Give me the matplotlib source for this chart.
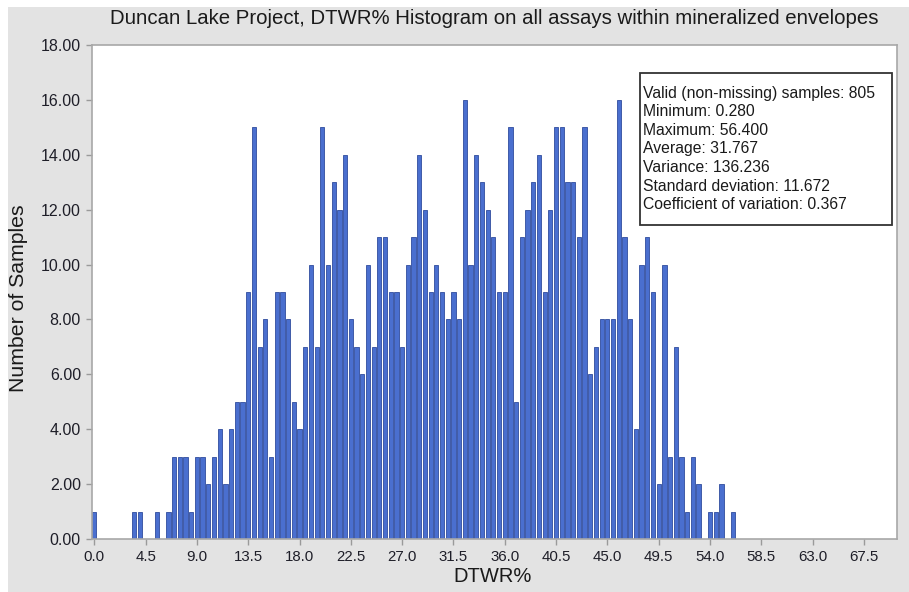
import numpy as np
import matplotlib
matplotlib.use('Agg')
import matplotlib.pyplot as plt
from matplotlib.patches import Rectangle

plt.rcParams['font.family'] = ['Liberation Sans', 'DejaVu Sans']

# Histogram bins (left value of each 0.5 % DTWR class) and sample counts
bin_values = np.arange(0.0, 56.5, 0.5)
counts = [
    1, 0, 0, 0, 0, 0, 0, 1, 1, 0, 0, 1, 0, 1, 3, 3, 3, 1, 3, 3,      # 0.0 - 9.5
    2, 3, 4, 2, 4, 5, 5, 9, 15, 7, 8, 3, 9, 9, 8, 5, 4, 7, 10, 7,     # 10.0 - 19.5
    15, 10, 13, 12, 14, 8, 7, 6, 10, 7, 11, 11, 9, 9, 7, 10, 11, 14, 12, 9,  # 20.0 - 29.5
    10, 9, 8, 9, 8, 16, 10, 14, 13, 12, 11, 9, 9, 15, 5, 11, 12, 13, 14, 9,  # 30.0 - 39.5
    12, 15, 15, 13, 13, 11, 15, 6, 7, 8, 8, 8, 16, 11, 8, 4, 10, 11, 9, 2,   # 40.0 - 49.5
    10, 3, 7, 3, 1, 3, 2, 0, 1, 1, 2, 0, 1,                          # 50.0 - 56.0
]
x_ticks = np.arange(0.0, 68.0, 4.5)
y_ticks = np.arange(0, 19, 2)

title = 'Duncan Lake Project, DTWR% Histogram on all assays within mineralized envelopes'
stats_lines = [
    'Valid (non-missing) samples: 805',
    'Minimum: 0.280',
    'Maximum: 56.400',
    'Average: 31.767',
    'Variance: 136.236',
    'Standard deviation: 11.672',
    'Coefficient of variation: 0.367',
]

W, H = 909, 592
fig = plt.figure(figsize=(W / 100, H / 100), dpi=100)
fig.patch.set_facecolor('white')
# grey panel behind the chart
fig.patches.append(Rectangle((8 / W, 0), 1 - 8 / W, 1 - 7 / H, transform=fig.transFigure,
                             facecolor='#e3e3e3', edgecolor='none', zorder=-1))

ax = fig.add_axes([92 / W, (H - 539) / H, 805 / W, 494 / H])
ax.set_facecolor('white')

ax.bar(bin_values, counts, width=0.37, color='#4a6fcf', edgecolor='#2f4c9e', linewidth=0.6)

ax.set_xlim(-0.2, 70.4)
ax.set_ylim(0, 18)
ax.set_xticks(x_ticks)
ax.set_xticklabels([f'{v:.1f}' for v in x_ticks])
ax.set_yticks(y_ticks)
ax.set_yticklabels([f'{v:.2f}' for v in y_ticks])
ax.tick_params(axis='both', colors='#9a9a9a', labelcolor='#1e1e28',
               length=4, width=1, pad=4)
ax.tick_params(axis='x', labelsize=10.8)
ax.tick_params(axis='y', labelsize=11.5)
for s in ax.spines.values():
    s.set_color('#a8a8a8')
    s.set_linewidth(1.2)

fig.text(494.5 / W, 1 - 18 / H, title, ha='center', va='center', fontsize=14.7, color='#1a1a1a')
fig.text(493 / W, 1 - 576 / H, 'DTWR%', ha='center', va='center', fontsize=14.5, color='#1a1a1a')
fig.text(19 / W, 1 - 298 / H, 'Number of Samples', ha='center', va='center', rotation=90,
         fontsize=15.3, color='#1a1a1a')

# statistics box
ax.add_patch(Rectangle((0.681, 0.636), 0.313, 0.307, transform=ax.transAxes,
                       facecolor='white', edgecolor='#333333', linewidth=1.3, zorder=5))
for i, line in enumerate(stats_lines):
    ax.text(0.684, 0.902 - i * 0.0375, line, transform=ax.transAxes, ha='left', va='center',
            fontsize=11.3, color='#1a1a1a', zorder=6)

fig.savefig('out.png', dpi=100)
